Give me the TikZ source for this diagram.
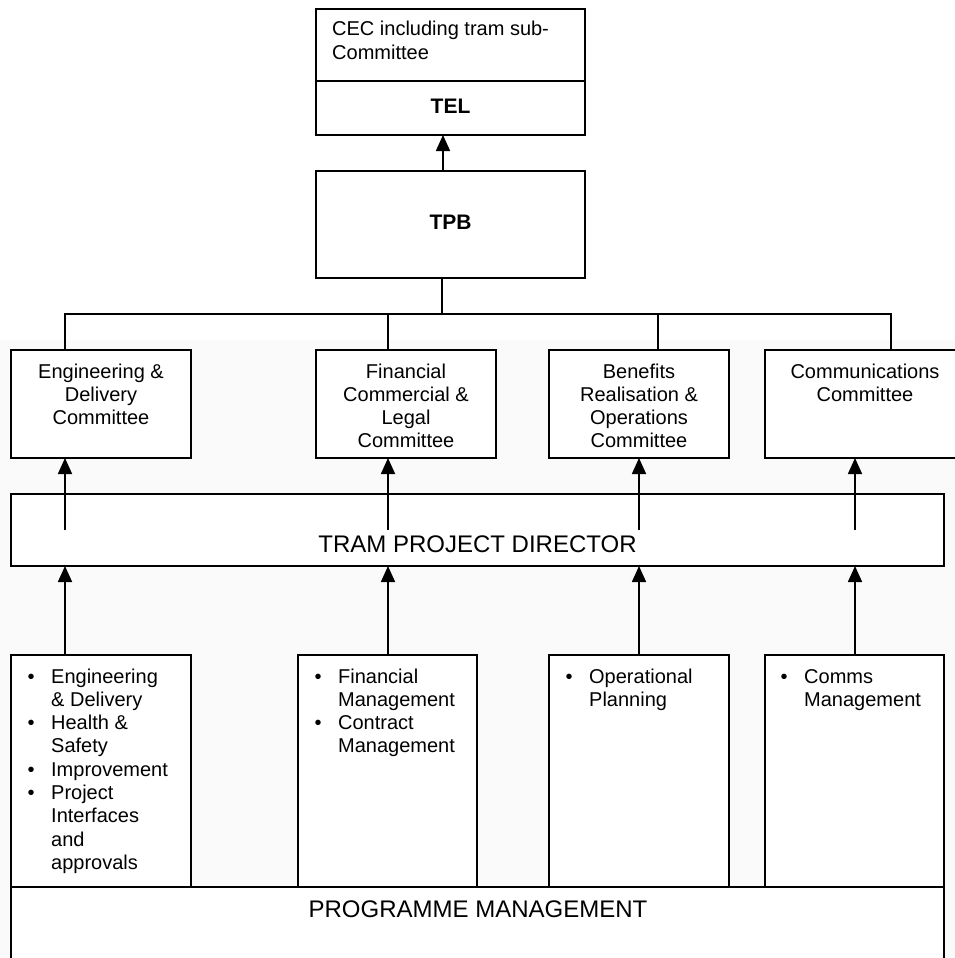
\documentclass[tikz,border=0pt]{standalone}
\usepackage{fontspec}
\setmainfont{Liberation Sans}
\usetikzlibrary{arrows.meta}
\definecolor{bgshade}{RGB}{250,250,250}
\begin{document}
\begin{tikzpicture}[x=1pt,y=-1pt,
  box/.style={draw=black, line width=2pt, fill=white, inner sep=0pt, outer sep=0pt, anchor=north west},
  txt/.style={inner sep=0pt, font=\fontsize{20}{23.3}\selectfont},
  big/.style={inner sep=0pt, font=\fontsize{24}{28}\selectfont},
  boldtxt/.style={inner sep=0pt, font=\fontsize{21}{25}\selectfont\bfseries},
  link/.style={line width=1.7pt},
  arr/.style={line width=1.7pt, -{Triangle[width=14pt,length=16pt]}}
]
\useasboundingbox (0,0) rectangle (955,958);
\clip (0,0) rectangle (955,958);
\fill[white] (0,0) rectangle (955,958);
\fill[bgshade] (0,340) rectangle (955,958);

% column coordinates
\coordinate (ax) at (443,0);
\coordinate (b1) at (65,314);
\coordinate (b2) at (388,314);
\coordinate (b3) at (658,314);
\coordinate (b4) at (891,314);
\coordinate (bus) at (442,314);
\coordinate (s1) at (65,530);
\coordinate (s2) at (388,530);
\coordinate (s3) at (639,530);
\coordinate (s4) at (855,530);

% boxes
\node[box, minimum width=269pt, minimum height=72pt] (cec) at (316,9) {};
\node[box, minimum width=269pt, minimum height=54pt] (tel) at (316,81) {};
\node[box, minimum width=269pt, minimum height=107pt] (tpb) at (316,171) {};
\node[box, minimum width=180pt, minimum height=108pt] (engc) at (11,350) {};
\node[box, minimum width=180pt, minimum height=108pt] (finc) at (316,350) {};
\node[box, minimum width=180pt, minimum height=108pt] (benc) at (549,350) {};
\node[box, minimum width=200pt, minimum height=108pt] (comc) at (765,350) {};
\node[box, minimum width=933pt, minimum height=72pt] (tpd) at (11,494) {};
\node[box, minimum width=933pt, minimum height=90pt] (pm) at (11,887) {};
\node[box, minimum width=180pt, minimum height=232pt] (engw) at (11,655) {};
\node[box, minimum width=179pt, minimum height=232pt] (finw) at (298,655) {};
\node[box, minimum width=180pt, minimum height=232pt] (opsw) at (549,655) {};
\node[box, minimum width=179pt, minimum height=232pt] (comw) at (765,655) {};

% texts
\node[txt, anchor=base west] (cect) at (332,36) {\begin{tabular}[t]{@{}l@{}}CEC including tram sub-\\Committee\end{tabular}};
\node[boldtxt, anchor=base] (telt) at (450.5,113) {TEL};
\node[boldtxt, anchor=base] (tpbt) at (450.5,229) {TPB};
\node[txt, anchor=base] (engct) at (101,378) {\begin{tabular}[t]{@{}c@{}}Engineering \&\\Delivery\\Committee\end{tabular}};
\node[txt, anchor=base] (finct) at (406,378) {\begin{tabular}[t]{@{}c@{}}Financial\\Commercial \&\\Legal\\Committee\end{tabular}};
\node[txt, anchor=base] (benct) at (639,378) {\begin{tabular}[t]{@{}c@{}}Benefits\\Realisation \&\\Operations\\Committee\end{tabular}};
\node[txt, anchor=base] (comct) at (865,378) {\begin{tabular}[t]{@{}c@{}}Communications\\Committee\end{tabular}};
\node[big, anchor=base] (tpdt) at (477.5,552) {TRAM PROJECT DIRECTOR};
\node[big, anchor=base] (pmt) at (478,917) {PROGRAMME MANAGEMENT};

\node[txt, anchor=base west] (engwt) at (27.5,683) {\begin{tabular}[t]{@{}p{23.5pt}@{}l@{}}
•&Engineering\\ &\& Delivery\\ •&Health \&\\ &Safety\\ •&Improvement\\ •&Project\\ &Interfaces\\ &and\\ &approvals\end{tabular}};
\node[txt, anchor=base west] (finwt) at (314.5,683) {\begin{tabular}[t]{@{}p{23.5pt}@{}l@{}}
•&Financial\\ &Management\\ •&Contract\\ &Management\end{tabular}};
\node[txt, anchor=base west] (opswt) at (565.5,683) {\begin{tabular}[t]{@{}p{23.5pt}@{}l@{}}
•&Operational\\ &Planning\end{tabular}};
\node[txt, anchor=base west] (comwt) at (780.5,683) {\begin{tabular}[t]{@{}p{23.5pt}@{}l@{}}
•&Comms\\ &Management\end{tabular}};

% connectors
\draw[arr] (tpb.north -| ax) -- (tel.south -| ax);
\draw[link] (tpb.south -| bus) -- (bus);
\draw[link] (engc.north -| b1) -- (b1) -- (b4) -- (comc.north -| b4);
\draw[link] (b2) -- (finc.north -| b2);
\draw[link] (b3) -- (benc.north -| b3);

\draw[arr] (s1) -- (engc.south -| s1);
\draw[arr] (s2) -- (finc.south -| s2);
\draw[arr] (s3) -- (benc.south -| s3);
\draw[arr] (s4) -- (comc.south -| s4);

\draw[arr] (engw.north -| s1) -- (tpd.south -| s1);
\draw[arr] (finw.north -| s2) -- (tpd.south -| s2);
\draw[arr] (opsw.north -| s3) -- (tpd.south -| s3);
\draw[arr] (comw.north -| s4) -- (tpd.south -| s4);
\end{tikzpicture}
\end{document}
